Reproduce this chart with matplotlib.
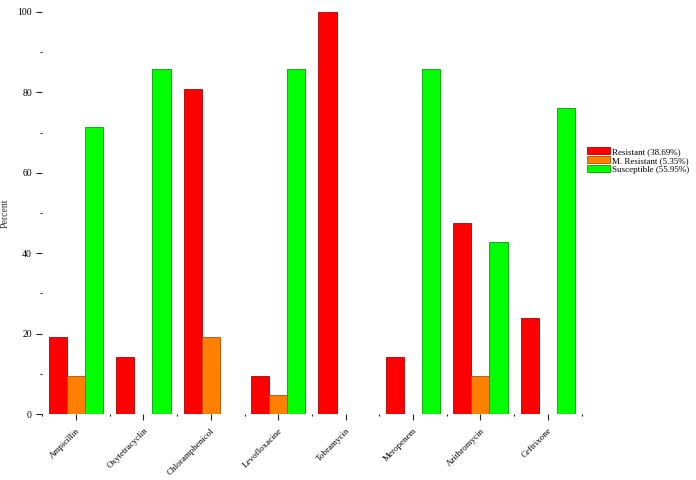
import matplotlib
matplotlib.use("Agg")
from matplotlib import pyplot as plt
from matplotlib.patches import Patch
import numpy as np

plt.rcParams['font.family'] = ['Liberation Serif', 'DejaVu Serif']

drugs = ["Ampicillin", "Oxytetracyclin", "Chloramphenicol", "Levofloxacine",
         "Tobramycin", "Meropenem", "Azithromycin", "Ceftrixone"]
resistant = [19.05, 14.29, 80.95, 9.52, 100.0, 14.29, 47.62, 23.81]
m_resistant = [9.52, 0, 19.05, 4.76, 0, 0, 9.52, 0]
susceptible = [71.43, 85.71, 0, 85.71, 0, 85.71, 42.86, 76.19]

labels = ["Resistant (38.69%)", "M. Resistant (5.35%)", "Susceptible (55.95%)"]
colors = ["#ff0000", "#ff8000", "#00ff00"]
edges = ["#b00000", "#b05000", "#00a000"]

fig = plt.figure(figsize=(6.96, 4.8), dpi=100)
ax = fig.add_axes([42.3/696, 66/480, (581.5-42.3)/696, 402/480])

x = np.arange(len(drugs))
w = 0.27
for k, vals in enumerate([resistant, m_resistant, susceptible]):
    ax.bar(x + (k-1)*w, vals, width=w, color=colors[k], edgecolor=edges[k], linewidth=0.6)

ax.set_xlim(-0.5, 7.5)
ax.set_ylim(0, 100)
for s in ax.spines.values():
    s.set_visible(False)

ax.set_xticks(x)
ax.set_xticklabels(drugs, rotation=45, ha='right', rotation_mode='anchor', fontsize=6.5)
ax.set_xticks(np.arange(-0.5, 8, 1), minor=True)
ax.set_yticks(np.arange(0, 101, 20))
ax.set_yticks(np.arange(10, 100, 20), minor=True)
ax.tick_params(axis='both', which='major', length=4, width=0.8, color='#222222', labelsize=7)
ax.tick_params(axis='x', which='major', labelsize=6.5, pad=5)
ax.tick_params(axis='both', which='minor', length=1.5, width=0.8, color='#222222')
ax.set_ylabel("Percent", fontsize=7, color='#333333')
ax.yaxis.set_label_coords(-0.06, 0.5)

handles = [Patch(facecolor=colors[k], edgecolor=edges[k], linewidth=0.6) for k in range(3)]
fig.legend(handles, labels, loc='upper left', bbox_to_anchor=(587/696, 1-147/480),
           frameon=False, fontsize=6.5, labelspacing=0.0, handleheight=0.9,
           handlelength=2.6, handletextpad=0.15, borderpad=0, borderaxespad=0)

fig.savefig("out.png", dpi=100)
